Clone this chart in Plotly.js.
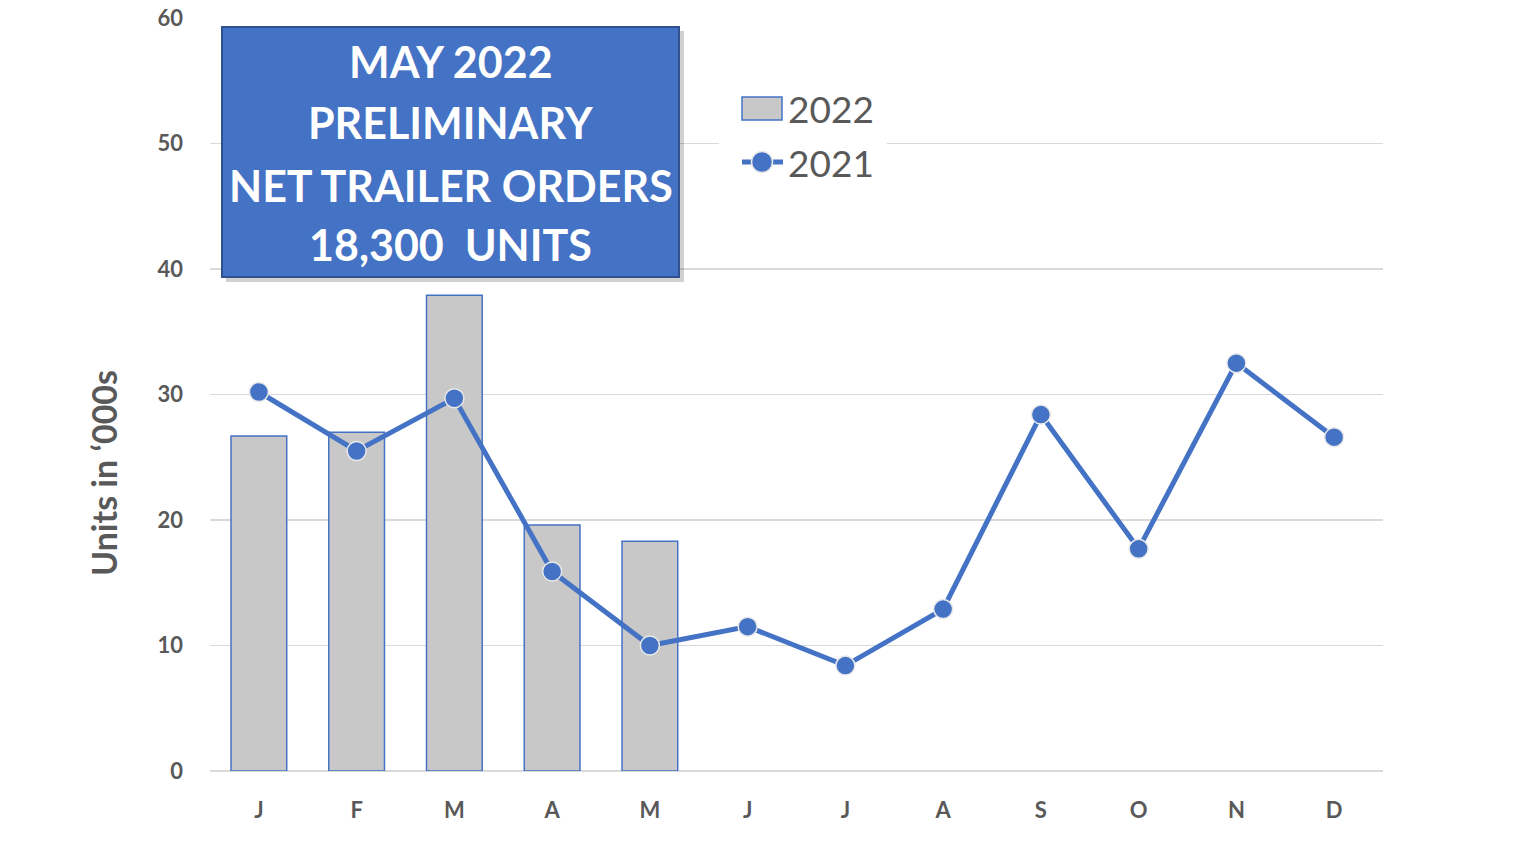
<!DOCTYPE html>
<html>
<head>
<meta charset="utf-8">
<script src="https://cdn.plot.ly/plotly-3.0.1.min.js"></script>
<style>
  html, body { margin: 0; padding: 0; background: #fff; }
  #chart { width: 1513px; height: 851px; }
</style>
</head>
<body>
<div id="chart"></div>
<script>
// months on the x axis
const months = ['J', 'F', 'M', 'A', 'M2', 'J2', 'J3', 'A2', 'S', 'O', 'N', 'D'];
const monthLabels = ['J', 'F', 'M', 'A', 'M', 'J', 'J', 'A', 'S', 'O', 'N', 'D'];

// net trailer orders, thousands of units
const orders2022 = [26.7, 27.0, 37.9, 19.6, 18.3];
const orders2021 = [30.2, 25.5, 29.7, 15.9, 10.0, 11.5, 8.4, 12.9, 28.4, 17.7, 32.5, 26.6];

const seriesNames = ['2022', '2021'];
const boxLines = ['MAY 2022', 'PRELIMINARY', 'NET TRAILER ORDERS', '18,300  UNITS'];
const yTitle = 'Units in ‘000s';

const blue = '#4472C4';
const gray = '#595959';
const barGray = '#C8C8C8';

// plot area in pixels, used to place the text box and legend
const M = {l: 210, r: 130, t: 18, b: 80};
const W = 1513, H = 851;
const px = (x) => (x - M.l) / (W - M.l - M.r);
const py = (y) => (H - M.b - y) / (H - M.t - M.b);

let bars = {
    type: 'bar',
    name: seriesNames[0],
    x: months.slice(0, orders2022.length),
    y: orders2022,
    width: 0.57,
    marker: {color: barGray, line: {color: blue, width: 1.5}},
    hoverinfo: 'y',
};

let line = {
    type: 'scatter',
    mode: 'lines+markers',
    name: seriesNames[1],
    x: months,
    y: orders2021,
    line: {color: blue, width: 5},
    marker: {color: blue, size: 19, line: {color: '#E8E8E8', width: 1.5}},
    hoverinfo: 'y',
};

// text box lines
let lineY = [62, 123, 185, 245];
let annotations = boxLines.map((txt, i) => ({
    xref: 'paper', yref: 'paper',
    x: px(450.5), y: py(lineY[i]),
    xanchor: 'center', yanchor: 'middle',
    text: txt, showarrow: false,
    font: {family: 'Lato, sans-serif', size: 43, color: '#ffffff', weight: 700},
}));

// hand made legend (larger swatches than plotly draws)
seriesNames.forEach((name, i) => {
    annotations.push({
        xref: 'paper', yref: 'paper',
        x: px(786), y: py(i == 0 ? 108 : 162),
        xanchor: 'left', yanchor: 'middle',
        text: name, showarrow: false,
        font: {family: 'Lato, sans-serif', size: 37, color: gray},
    });
});

// y title sits lower than the axis middle in the original
annotations.push({
    xref: 'paper', yref: 'paper',
    x: px(103), y: py(473),
    xanchor: 'center', yanchor: 'middle',
    textangle: -90,
    text: yTitle, showarrow: false,
    font: {family: 'Lato, sans-serif', size: 34, color: gray, weight: 700},
});

let shapes = [
    // shadow + box
    {type: 'rect', xref: 'paper', yref: 'paper', x0: px(226), x1: px(684), y0: py(282), y1: py(31),
     fillcolor: 'rgba(0,0,0,0.18)', line: {width: 0}, layer: 'above'},
    {type: 'rect', xref: 'paper', yref: 'paper', x0: px(222), x1: px(679), y0: py(277), y1: py(27),
     fillcolor: blue, line: {color: '#2F528F', width: 2}, layer: 'above'},
    // legend background
    {type: 'rect', xref: 'paper', yref: 'paper', x0: px(719), x1: px(887), y0: py(185), y1: py(85),
     fillcolor: '#ffffff', line: {width: 0}, layer: 'above'},
    // 2022 swatch
    {type: 'rect', xref: 'paper', yref: 'paper', x0: px(742), x1: px(782), y0: py(120), y1: py(97),
     fillcolor: barGray, line: {color: blue, width: 1.5}, layer: 'above'},
    // 2021 swatch
    {type: 'line', xref: 'paper', yref: 'paper', x0: px(742), x1: px(783), y0: py(162), y1: py(162),
     line: {color: blue, width: 5}, layer: 'above'},
    {type: 'circle', xref: 'paper', yref: 'paper', x0: px(751.5), x1: px(772.5), y0: py(172.5), y1: py(151.5),
     fillcolor: blue, line: {color: '#E8E8E8', width: 1.5}, layer: 'above'},
];

let layout = {
    width: W, height: H,
    margin: M,
    paper_bgcolor: '#ffffff',
    plot_bgcolor: '#ffffff',
    font: {family: 'Lato, "Open Sans", sans-serif', color: gray},
    showlegend: false,
    xaxis: {
        type: 'category',
        categoryorder: 'array', categoryarray: months,
        tickvals: months, ticktext: monthLabels,
        range: [-0.5, 11.5],
        showgrid: false, zeroline: false,
        showline: false, ticks: '',
        tickfont: {size: 22, color: gray, weight: 700},
        ticklabelstandoff: 24,
    },
    yaxis: {
        range: [0, 60],
        dtick: 10,
        showgrid: true, gridcolor: '#D9D9D9', gridwidth: 1.5,
        zeroline: true, zerolinecolor: '#D9D9D9', zerolinewidth: 1.5,
        showline: false, ticks: '',
        tickfont: {size: 22, color: gray, weight: 700},
        ticklabelstandoff: 26,
    },
    shapes: shapes,
    annotations: annotations,
};

Plotly.newPlot('chart', [bars, line], layout, {displayModeBar: false, staticPlot: true});
</script>
</body>
</html>
